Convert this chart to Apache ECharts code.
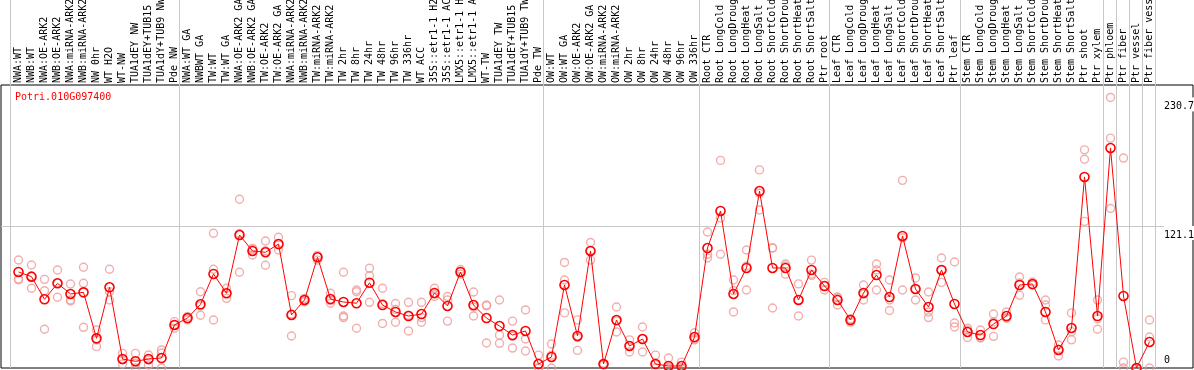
<!DOCTYPE html>
<html><head><meta charset="utf-8">
<script src="https://cdn.jsdelivr.net/npm/echarts@6/dist/echarts.min.js"></script>
<style>html,body{margin:0;padding:0;background:#fff}#c{width:1194px;height:370px}</style>
</head><body><div id="c"></div><script>
const geneId = 'Potri.010G097400';
const categories = [
 'NWA:WT','NWB:WT','NWA:OE-ARK2','NWB:OE-ARK2','NWA:miRNA-ARK2','NWB:miRNA-ARK2','NW 0hr','WT H2O','WT-NW','TUA1dEY NW','TUA1dEY+TUB15 NW','TUA1dY+TUB9 NW','Pde NW',
 'NWA:WT GA','NWBWT GA','TW:WT','TW:WT GA','NWA:OE-ARK2 GA','NWB:OE-ARK2 GA','TW:OE-ARK2','TW:OE-ARK2 GA','NWA:miRNA-ARK2','NWB:miRNA-ARK2','TW:miRNA-ARK2','TW:miRNA-ARK2','TW 2hr','TW 8hr','TW 24hr','TW 48hr','TW 96hr','TW 336hr','WT ACC','35S::etr1-1 H2O','35S::etr1-1 ACC','LMX5::etr1-1 H2O','LMX5::etr1-1 ACC','WT-TW','TUA1dEY TW','TUA1dEY+TUB15 TW','TUA1dY+TUB9 TW','Pde TW',
 'OW:WT','OW:WT GA','OW:OE-ARK2','OW:OE-ARK2 GA','OW:miRNA-ARK2','OW:miRNA-ARK2','OW 2hr','OW 8hr','OW 24hr','OW 48hr','OW 96hr','OW 336hr',
 'Root CTR','Root LongCold','Root LongDrought','Root LongHeat','Root LongSalt','Root ShortCold','Root ShortDrought','Root ShortHeat','Root ShortSalt','Ptr root',
 'Leaf CTR','Leaf LongCold','Leaf LongDrought','Leaf LongHeat','Leaf LongSalt','Leaf ShortCold','Leaf ShortDrought','Leaf ShortHeat','Leaf ShortSalt','Ptr leaf',
 'Stem CTR','Stem LongCold','Stem LongDrought','Stem LongHeat','Stem LongSalt','Stem ShortCold','Stem ShortDrought','Stem ShortHeat','Stem ShortSalt','Ptr shoot','Ptr xylem',
 'Ptr phloem','Ptr fiber','Ptr vessel','Ptr fiber vessel'
];
const means = [
 81.9,77.9,58.6,72.2,63.1,64.5,25.3,68.8,7.7,5.7,7.7,8.5,36.7,
 42.6,54.3,80.2,63.7,113.4,99.8,98.7,105.7,45.2,58.0,94.4,58.8,56.3,55.2,72.7,53.7,47.8,44.3,46.0,64.0,52.9,81.9,53.7,42.6,35.8,28.1,31.6,3.4,
 9.4,70.8,27.3,99.8,3.4,40.9,18.8,24.7,3.4,1.7,1.7,26.4,
 102.3,133.9,63.1,85.3,150.9,85.3,85.3,58.0,83.6,69.9,
 58.0,40.9,64.0,79.3,60.5,112.6,67.4,52.0,83.6,54.6,
 30.7,28.1,37.5,44.3,70.8,71.6,47.8,15.4,34.1,162.9,44.3,
 187.6,61.4,0,22.2
];
const rep1 = [
 92.1,87.8,75.6,83.6,71.6,85.9,32.4,84.2,12.5,12.5,11.1,15.4,39.5,
 44,65,114.9,68,143.9,102,108.3,111.5,61.7,59.4,92,63.7,81.6,66.5,85,68,55,56,56,68,58,84,64.8,53.7,58,40,49.5,11,
 20.5,90,41,107,3,52,24,35,11,8.5,5,30,
 116,177,75,100.6,168.9,102.3,88.7,58,92,73,
 59.7,41,70.8,88.7,75,160,76.8,64.8,93.8,90.4,
 34,32.4,46,47.8,77.6,73.3,58,19.6,47,186,58,
 230.7,179,0,40.9
];
const rep2 = [
 75.9,68,65.9,60.3,58,72.2,23.9,65.1,3.4,0,2.6,12.8,36.7,
 42,45,84.2,59.4,81.6,96.4,87.6,100.6,27.3,56.5,95,55.2,44.3,33.9,78.7,55,39,31.6,39,61,40,80,44.3,21.3,21,27,24.7,0,
 11,75,15,100,4,30.7,13.6,13.6,3,0,0,24,
 93.8,128,47.8,87,134.7,51.2,87,44.3,80,66.5,
 53.7,39,58,83.6,58,111,58,47.8,83.6,38.4,
 32.4,25.6,39.2,42.6,72.5,70.8,53.7,10.2,24,178,33,
 196,5,0,26.4
];
const rep3 = [
 75.1,78,33,72.5,57.1,34.7,18.2,58,7,4,6.8,0,33.9,
 41,53,40.9,63.7,114.7,101,100,105,46,58,96,57.5,43,65,56,38,50,45,43,63,61,82,52,53,28,17,14.5,0,
 0,47,26,92,3,40,19,25,0,0,0,25,
 97,97,66,66.5,149,102.4,80,71.7,79,70,
 60.6,42,63,66.5,49,66.5,67,43,73,35,
 26,26,27,42.5,62,71,41,16,31,125,42,
 136,0,0,0
];
const yLabelValues = [121.1, 230.7];
const yZeroLabel = [0];
const yGridValues = [121.1];
const groupBreaks = [0,13,41,53,63,73,84,85,86,87,88];

const FONT = 'DejaVu Sans Mono';
const Y_MAX = 241.3;
const chart = echarts.init(document.getElementById('c'), null, {renderer:'canvas'});
const repStyle = {color:'transparent', borderColor:'#ee9a9a', borderWidth:1.4};
function repSeries(arr){
  return {type:'scatter', xAxisIndex:1, yAxisIndex:2, data:arr, symbol:'circle', symbolSize:8,
    itemStyle:repStyle, clip:false, z:2, silent:true};
}
const gridBase = {containLabel:false, outerBoundsMode:'none'};
chart.setOption({
  animation:false,
  title:{text:geneId, left:10, top:87, textStyle:{color:'#ff0000', fontFamily:FONT, fontSize:10, fontWeight:'normal'}},
  grid:[
    Object.assign({left:1, right:1, top:85, bottom:2, show:true, borderColor:'#000', borderWidth:1, backgroundColor:'transparent'}, gridBase),
    Object.assign({left:12, right:38, top:85, bottom:2}, gridBase),
    Object.assign({left:10, right:39, top:0, bottom:2}, gridBase)
  ],
  xAxis:[
    {gridIndex:0, type:'value', min:0, max:1, show:false},
    {gridIndex:1, type:'category', data:categories, position:'top', boundaryGap:true,
     axisLine:{show:false}, axisTick:{show:false}, splitLine:{show:false},
     axisLabel:{interval:0, rotate:90, margin:2, fontFamily:FONT, fontSize:10, color:'#000', hideOverlap:false}},
    {gridIndex:2, type:'value', min:0, max:88, axisLine:{show:false},
     axisTick:{show:false, customValues:groupBreaks}, axisLabel:{show:false},
     splitLine:{show:true, lineStyle:{color:'#c8c8c8', width:1}}}
  ],
  yAxis:[
    {gridIndex:0, type:'value', min:0, max:Y_MAX, position:'right', axisLine:{show:false},
     axisTick:{show:false, customValues:yGridValues},
     axisLabel:{inside:true, customValues:yLabelValues, align:'left', verticalAlign:'top', margin:29,
       fontFamily:FONT, fontSize:10, color:'#000', backgroundColor:'#fff', padding:[4,0,0,0]},
     splitLine:{show:true, lineStyle:{color:'#c8c8c8', width:1}}},
    {gridIndex:0, type:'value', min:0, max:Y_MAX, position:'right', axisLine:{show:false},
     axisTick:{show:false, customValues:yZeroLabel},
     axisLabel:{inside:true, customValues:yZeroLabel, align:'left', verticalAlign:'bottom', margin:29,
       fontFamily:FONT, fontSize:10, color:'#000', padding:[0,0,3,0]},
     splitLine:{show:false}},
    {gridIndex:1, type:'value', min:0, max:Y_MAX, show:false},
    {gridIndex:2, type:'value', min:0, max:1, show:false}
  ],
  series:[
    repSeries(rep1), repSeries(rep2), repSeries(rep3),
    {type:'line', xAxisIndex:1, yAxisIndex:2, data:means, symbol:'circle', symbolSize:9, showAllSymbol:true,
     itemStyle:{color:'transparent', borderColor:'#ff0000', borderWidth:1.6},
     lineStyle:{color:'#ff0000', width:1}, clip:false, z:3, silent:true}
  ]
});
</script></body></html>
